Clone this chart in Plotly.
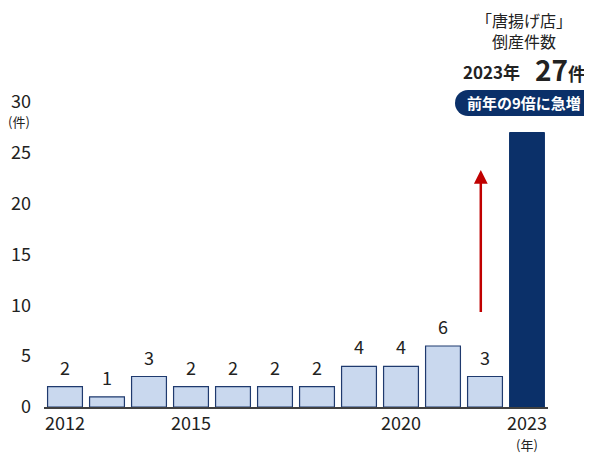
import plotly.graph_objects as go

years = list(range(2012, 2024))
counts = [2, 1, 3, 2, 2, 2, 2, 4, 4, 6, 3, 27]
x_tickvals = [2012, 2015, 2020, 2023]
y_tickvals = [0, 5, 10, 15, 20, 25, 30]

FONT = "Noto Sans CJK JP"
TXT = "#222222"
LIGHT = "#C9D8EE"
DARK = "#0B3069"
EDGE = "#1F3A6E"

OFF = 8  # page body margin
W, H = 592 - OFF, 453 - OFF
L, R, T, B = 44 - OFF, 44, 102 - OFF, 46
pw, ph = W - L - R, H - T - B

def px(xp):
    return (xp - OFF - L) / pw

def py(yp):
    return (H - B - (yp - OFF)) / ph

fig = go.Figure()
fig.add_trace(go.Bar(
    x=years[:-1], y=counts[:-1], marker=dict(color=LIGHT, line=dict(color=EDGE, width=1.2)),
    width=0.83, hoverinfo="skip"))
fig.add_trace(go.Bar(
    x=years[-1:], y=counts[-1:], marker=dict(color=DARK, line=dict(color=DARK, width=1)),
    width=0.83, hoverinfo="skip"))

annotations = []
for yr, v in zip(years[:-1], counts[:-1]):
    annotations.append(dict(x=yr, y=v, xref="x", yref="y", text=str(v), showarrow=False,
                            xanchor="center", yanchor="bottom", yshift=5,
                            font=dict(size=18, color=TXT, family=FONT)))

# arrow
annotations.append(dict(x=2021.9, y=23.3, xref="x", yref="y", ax=2021.9, ay=9.2, axref="x", ayref="y",
                        text="", showarrow=True, arrowhead=2, arrowsize=1.1, arrowwidth=2.5,
                        arrowcolor="#C00000"))

def lab(x, y, text, size, color=TXT):
    return dict(x=px(x), y=py(y), xref="paper", yref="paper", text=text, showarrow=False,
                xanchor="center", yanchor="middle", borderpad=0,
                font=dict(size=size, color=color, family=FONT))

annotations += [
    lab(19, 122, "(件)", 13),
    lab(527, 444, "(年)", 13),
    lab(524, 30, "「唐揚げ店」<br>倒産件数", 16),
    lab(491, 72, "<b>2023年</b>", 17),
    lab(560, 69, "<b><span style='font-size:28px'>27</span>件</b>", 18),
    lab(524, 103, "<b>前年の9倍に急増</b>", 15, "white"),
]

shapes = [
    dict(type="rect", xref="paper", yref="paper", x0=px(468), x1=px(600), y0=py(116), y1=py(90),
         fillcolor=DARK, line=dict(width=0), layer="below"),
    dict(type="circle", xref="paper", yref="paper", x0=px(455), x1=px(481), y0=py(116), y1=py(90),
         fillcolor=DARK, line=dict(width=0), layer="below"),
]

fig.update_layout(
    width=W, height=H, margin=dict(l=L, r=R, t=T, b=B, autoexpand=False),
    plot_bgcolor="white", paper_bgcolor="white",
    showlegend=False, barmode="overlay",
    font=dict(family=FONT, color=TXT),
    annotations=annotations, shapes=shapes,
    xaxis=dict(range=[2011.5, 2023.5], tickvals=x_tickvals, ticktext=[str(v) for v in x_tickvals],
               showgrid=False, zeroline=False, showline=True, linecolor="#404040", linewidth=1.5,
               ticks="", tickfont=dict(size=18, color=TXT, family=FONT), ticklabelstandoff=0,
               automargin=False),
    yaxis=dict(range=[0, 30], tickvals=y_tickvals, showgrid=False, zeroline=False, showline=False,
               ticks="", tickfont=dict(size=18, color=TXT, family=FONT), ticklabelstandoff=12,
               automargin=False),
)

fig.write_html("out.html")
